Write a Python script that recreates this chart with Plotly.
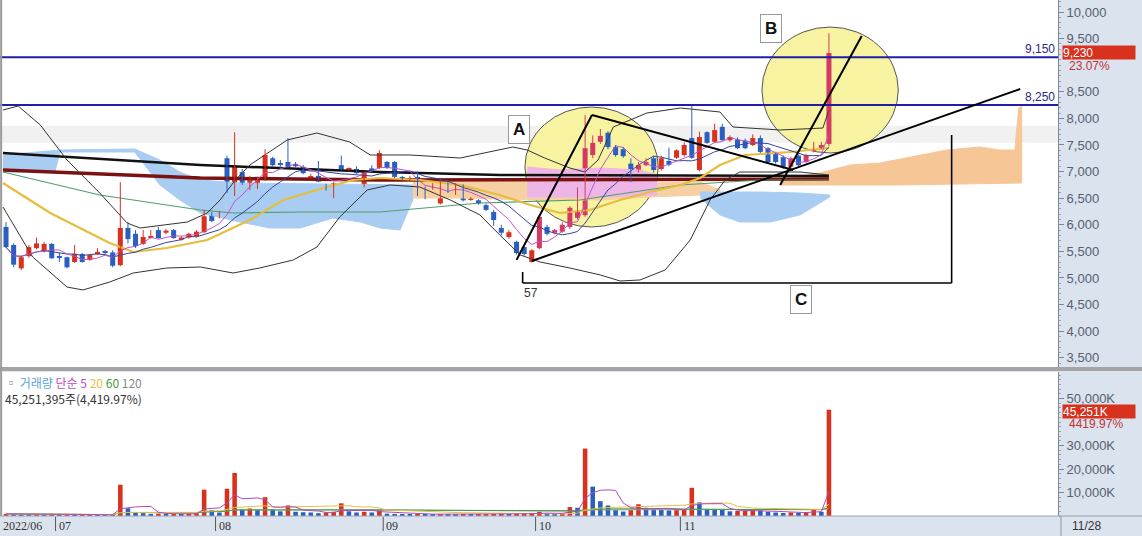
import plotly.graph_objects as go
import pandas as pd

W, H = 1142, 536

# ---------------- data ----------------
month_labels = ["2022/06", "07", "08", "09", "10", "11"]
month_start = [0, 7, 28, 50, 70, 89]
last_date_label = "11/28"

open_ = [5960,5620,5180,5410,5560,5500,5640,5410,5390,5300,
         5450,5340,5450,5490,5480,5240,5940,5830,5640,5760,
         5900,5850,5900,5720,5760,5780,5860,6220,6170,7250,
         6560,6990,6710,6690,6840,7250,7150,7180,7140,7090,
         6890,6920,6750,6520,7120,7030,7050,6710,7060,7070,
         7180,7180,6900,6840,6900,6690,6690,6400,6800,6600,
         6730,6480,6460,6370,6240,5940,5770,5680,5580,5300,
         5560,5960,5850,5870,5960,6130,6180,7310,7560,7730,
         7460,7420,7150,7000,7120,7250,7050,7200,7260,7310,
         7630,7030,7740,7560,7840,7590,7600,7580,7500,7630,
         7440,7330,7270,7090,7300,7180,7380,7440,7520]
high = [6050,5650,5420,5620,5760,5680,5660,5480,5400,5620,
        5470,5450,5560,5530,5520,6800,6050,5900,5900,5900,
        5960,5920,5920,5780,5850,5900,6280,6240,6260,7300,
        7740,7050,6920,6900,7420,7280,7220,7630,7180,7120,
        6960,7200,6770,6800,7300,7080,7100,7000,7120,7400,
        7200,7200,6920,6920,7000,6720,6780,6850,6830,6780,
        6760,6520,6480,6400,6280,6000,5900,5700,5620,5540,
        6200,6000,5920,6050,6350,6700,8060,7680,7800,7760,
        7500,7460,7250,7180,7250,7300,7300,7450,7420,7550,
        8250,7750,7760,7900,7900,7680,7640,7620,7700,7680,
        7460,7350,7300,7280,7320,7340,7560,7560,9600]
low = [5560,5200,5150,5380,5540,5480,5360,5300,5180,5280,
       5290,5320,5430,5440,5200,5220,5650,5560,5620,5740,
       5740,5820,5740,5700,5740,5760,5840,6050,6120,6600,
       6540,6750,6650,6670,6820,7100,7050,7060,7080,6950,
       6870,6800,6640,6500,7020,7000,6960,6700,6990,7050,
       7050,6880,6840,6830,6540,6480,6660,6380,6600,6560,
       6440,6450,6380,6260,5980,5800,5740,5440,5420,5290,
       5540,5800,5820,5850,5920,6100,6150,7250,7520,7420,
       7280,7260,6800,6980,7100,6980,7020,7100,7240,7280,
       7240,7000,7520,7540,7580,7560,7420,7420,7480,7350,
       7160,7150,7050,7060,7100,7160,7360,7420,7480]
close = [5580,5250,5390,5580,5650,5640,5370,5390,5200,5450,
         5300,5430,5490,5470,5230,5940,5730,5600,5770,5790,
         5750,5890,5750,5760,5830,5870,6160,6070,6190,6650,
         7120,6780,6840,6860,7310,7120,7130,7070,7100,6970,
         6910,6810,6650,6780,7030,7060,6970,6990,7000,7350,
         7070,6900,6850,6880,6560,6520,6730,6710,6620,6750,
         6460,6500,6400,6280,6090,5850,5860,5470,5450,5520,
         6150,5830,5900,6000,6320,6240,7440,7540,7670,7460,
         7310,7290,6850,7120,7180,7030,7250,7130,7400,7500,
         7260,7650,7540,7780,7590,7650,7440,7440,7630,7370,
         7180,7180,7090,7250,7120,7310,7420,7500,9230]
volume_k = [900,800,700,600,700,500,600,500,600,500,
            500,600,500,400,700,13300,3300,1600,1200,900,
            1000,800,900,700,900,1200,11200,2500,1500,11600,
            18300,2800,3200,2500,8000,2800,2000,4500,1800,1600,
            1500,1200,1500,1800,5400,2000,1500,1800,1500,2500,
            1000,900,800,700,900,800,700,800,700,600,
            700,600,600,700,800,900,800,1000,1100,1300,
            1800,900,800,1000,3800,3500,28700,12500,6300,4500,
            2500,1900,2500,5000,3500,2800,2600,2400,2500,2800,
            12000,5800,3000,2800,2600,2000,2200,2200,2500,2400,
            1800,1500,1300,1500,1400,1600,2700,1800,45251]

# indicator lines (x = trading-day index, y = price)
bb_up_x = [-0.4,1.6,4.5,8.0,12.3,15.9,17.6,23.8,26.4,28.1,30.1,32.0,36.9,40.8,45.1,47.8,53.0,59.6,66.5,68.4,70.7,74.0,76.0,77.7,79.7,84.1,88.5,93.7,95.4,101.6,107.2,108.0]
bb_up_y = [8158,8233,7876,7218,6597,6033,5939,6052,6221,6466,6842,7124,7594,7725,7556,7312,7312,7255,7462,7406,7255,7067,6992,7218,7838,8101,8195,8120,7838,7782,7819,8158]
bb_lo_x = [-0.4,3.5,8.0,10.1,13.6,16.7,21.1,25.5,29.8,33.3,37.7,40.8,43.8,47.4,50.4,54.3,58.3,62.2,64.8,67.5,70.1,74.0,78.0,80.6,83.2,86.5,89.8,92.4,94.4,96.3,104.2,108.0]
bb_lo_y = [6334,5394,4830,4774,4924,5093,5187,5206,5093,5187,5338,5582,6146,6654,6748,6710,6466,6184,5808,5432,5300,5187,5056,4943,4962,5150,5714,6466,6842,6992,6992,6936]
ma20_x = [-0.4,5.8,13.6,16.7,21.1,26.4,32.0,36.4,40.8,45.5,49.1,54.3,59.6,64.8,68.8,72.7,76.6,80.6,84.5,88.5,91.1,93.7,97.0,102.9,108.0]
ma20_y = [6785,6221,5657,5488,5563,5714,6090,6466,6654,6842,6879,6842,6748,6560,6372,6221,6278,6466,6616,6748,6879,7124,7312,7368,7443]
ma60_x = [-0.4,12.3,25.5,29.8,38.6,49.1,62.2,75.3,88.5,99.0,108.0]
ma60_y = [6992,6560,6278,6221,6240,6240,6409,6466,6748,6842,6842]
ma120_x = [-0.4,25.5,49.1,64.8,108.0]
ma120_y = [7349,7124,6992,6936,6917]
ma240_x = [-0.4,25.5,49.1,108.0]
ma240_y = [7030,6879,6842,6860]

# ichimoku cloud outlines (top edge left->right, bottom edge left->right)
cloud_blue1_top_x = [-0.4,7.1,16.9,20.2,22.8,25.5,30.7,53.4]
cloud_blue1_top_y = [7312,7406,7424,7218,6992,6842,6785,6748]
cloud_blue1_bot_x = [-0.4,6.4,7.1,16.9,20.2,22.8,25.5,30.7,34.6,38.6,42.9,46.5,49.1,51.7,53.4]
cloud_blue1_bot_y = [6992,6992,7368,7368,6748,6466,6221,6052,5939,5939,6127,6052,5939,5902,6466]
cloud_org1_top_x = [53.4,59.6,68.8,78.0,84.5,91.1,93.7]
cloud_org1_top_y = [6842,6842,6804,6748,6785,6804,6654]
cloud_org1_bot_x = [53.4,59.6,68.8,78.0,84.5,91.1,93.7]
cloud_org1_bot_y = [6503,6503,6466,6466,6522,6560,6616]
cloud_pink_top_x = [68.4,72.7,78.0,83.2,85.4]
cloud_pink_top_y = [7086,7030,7067,7030,6936]
cloud_pink_bot_x = [68.4,78.0,85.4]
cloud_pink_bot_y = [6522,6522,6560]
cloud_blue2_top_x = [91.1,99.0,104.2,108.1]
cloud_blue2_top_y = [6616,6616,6597,6560]
cloud_blue2_bot_x = [91.1,93.7,96.3,100.3,104.2,108.1]
cloud_blue2_bot_y = [6503,6184,6052,6052,6184,6522]
cloud_org2_top_x = [101.6,104.2,106.8,110.8,114.7,119.0,123.5,127.8,130.4,132.4,132.9,133.3]
cloud_org2_top_y = [6842,6917,6973,7124,7161,7274,7406,7462,7406,7406,8195,8233]
cloud_org2_bot_x = [101.6,117.3,133.3]
cloud_org2_bot_y = [6748,6748,6785]

level_lines = [9150, 8250]

# ---------------- derived ----------------
idx = list(range(len(close)))
cs = pd.Series(close, dtype=float)
vs = pd.Series(volume_k, dtype=float)
ma5 = cs.rolling(5, min_periods=1).mean()
ma10 = cs.rolling(10, min_periods=1).mean()
vma = {n: vs.rolling(n, min_periods=1).mean() for n in (5, 20, 60, 120)}
vol_colors = ['#d8321f' if (i == 0 or volume_k[i] >= volume_k[i-1]) else '#2a5fc2' for i in idx]

RED, BLUE, CRIMSON = '#d8321f', '#2a5fc2', '#d43a62'
def in_circle(i):
    return 70 <= i <= 84 or i >= 100

up = [close[i] >= open_[i] for i in idx]
body_col = [(CRIMSON if in_circle(i) else RED) if up[i] else BLUE for i in idx]
body_base = [min(open_[i], close[i]) for i in idx]
body_len = [max(abs(close[i] - open_[i]), 22) for i in idx]

XD = 1058 / W
X_RANGE = [-0.79, 138.06]

fig = go.Figure()

def poly(tx, ty, bx, by, color):
    fig.add_trace(go.Scatter(x=tx + bx[::-1], y=ty + by[::-1], fill='toself', fillcolor=color,
                             line=dict(color=color, width=1), mode='lines', hoverinfo='skip'))

poly(cloud_blue1_top_x, cloud_blue1_top_y, cloud_blue1_bot_x, cloud_blue1_bot_y, '#a9cdf2')
poly(cloud_org1_top_x, cloud_org1_top_y, cloud_org1_bot_x, cloud_org1_bot_y, '#f6cfa3')
poly(cloud_pink_top_x, cloud_pink_top_y, cloud_pink_bot_x, cloud_pink_bot_y, '#eeb6e6')
poly(cloud_blue2_top_x, cloud_blue2_top_y, cloud_blue2_bot_x, cloud_blue2_bot_y, '#a9cdf2')
poly(cloud_org2_top_x, cloud_org2_top_y, cloud_org2_bot_x, cloud_org2_bot_y, '#f6c697')

def line(x, y, color, width):
    fig.add_trace(go.Scatter(x=x, y=y, mode='lines', line=dict(color=color, width=width), hoverinfo='skip'))

line(ma240_x, ma240_y, '#7a1212', 3.5)
line(ma120_x, ma120_y, '#111111', 2.5)
line(ma60_x, ma60_y, '#4f9f6a', 1.2)
line(bb_up_x, bb_up_y, '#333333', 1)
line(bb_lo_x, bb_lo_y, '#333333', 1)
line(ma20_x, ma20_y, '#e6bd3c', 2.2)
line(idx, list(ma10), '#33449a', 1)
line(idx, list(ma5), '#c055c8', 1)

# candles: wicks then bodies
for col in (RED, CRIMSON, BLUE):
    wx, wy = [], []
    for i in idx:
        if body_col[i] == col:
            wx += [i, i, None]
            wy += [low[i], high[i], None]
    fig.add_trace(go.Scatter(x=wx, y=wy, mode='lines', line=dict(color=col, width=1), hoverinfo='skip'))
fig.add_trace(go.Bar(x=idx, y=body_len, base=body_base, width=0.66,
                     marker=dict(color=body_col, line=dict(width=0)), hoverinfo='skip'))

fig.add_trace(go.Bar(x=idx, y=volume_k, marker=dict(color=vol_colors, line=dict(width=0)),
                     width=0.6, xaxis='x2', yaxis='y2', hoverinfo='skip'))
for n, c in ((120, '#9a9a9a'), (60, '#3f9a45'), (20, '#e2c24a'), (5, '#b04ab8')):
    fig.add_trace(go.Scatter(x=idx, y=list(vma[n]), mode='lines', line=dict(color=c, width=1),
                             xaxis='x2', yaxis='y2', hoverinfo='skip'))

shapes = []
shapes.append(dict(type='rect', xref='x', yref='y', x0=X_RANGE[0], x1=X_RANGE[1], y0=7540, y1=7860,
                   fillcolor='#f1f1f1', line=dict(width=0), layer='below'))
shapes.append(dict(type='circle', xref='x', yref='y', x0=68.1, x1=85.6, y0=5958, y1=8214,
                   fillcolor='#f8f3a0', line=dict(color='#555555', width=1), layer='below'))
shapes.append(dict(type='circle', xref='x', yref='y', x0=99.2, x1=117.1, y0=7349, y1=9718,
                   fillcolor='#f8f3a0', line=dict(color='#555555', width=1), layer='below'))
for lv in level_lines:
    shapes.append(dict(type='line', xref='paper', yref='y', x0=0, x1=XD, y0=lv, y1=lv,
                       line=dict(color='#1e1ea6', width=2), layer='above'))
for (x0, y0, x1, y1) in [(67.0, 5340, 76.9, 8064), (76.9, 8064, 103.3, 7030),
                         (69.0, 5319, 133.1, 8552), (101.6, 6748, 112.3, 9549)]:
    shapes.append(dict(type='line', xref='x', yref='y', x0=x0, y0=y0, x1=x1, y1=y1,
                       line=dict(color='black', width=2), layer='above'))
for (x0, y0, x1, y1) in [(67.8, 5112, 67.8, 4905), (67.8, 4905, 124.1, 4905), (124.1, 4905, 124.1, 7688)]:
    shapes.append(dict(type='line', xref='x', yref='y', x0=x0, y0=y0, x1=x1, y1=y1,
                       line=dict(color='black', width=1.6), layer='above'))
shapes.append(dict(type='rect', xref='paper', yref='paper', x0=0, x1=1, y0=1-371/H, y1=1-367/H,
                   fillcolor='#a4a4a4', line=dict(width=0), layer='above'))
shapes.append(dict(type='line', xref='paper', yref='paper', x0=0.001, x1=0.001, y0=1-516/H, y1=1,
                   line=dict(color='#9a9a9a', width=2)))
shapes.append(dict(type='line', xref='paper', yref='paper', x0=0, x1=1, y0=1-516/H, y1=1-516/H,
                   line=dict(color='#9aa4b4', width=1)))
shapes.append(dict(type='line', xref='paper', yref='paper', x0=1061/W, x1=1061/W, y0=0, y1=1-516/H,
                   line=dict(color='#8a94a4', width=1)))
for ms in month_start[1:]:
    shapes.append(dict(type='line', xref='x', yref='paper', x0=ms-0.5, x1=ms-0.5, y0=1-531/H, y1=1-517/H,
                       line=dict(color='#555555', width=1)))

ann = []
for lbl, xx, yy in (("A", 67.3, 7782), ("B", 100.4, 9699), ("C", 104.3, 4586)):
    ann.append(dict(text=f"<b>{lbl}</b>", x=xx, y=yy, xref='x', yref='y', showarrow=False,
                    font=dict(family='Liberation Sans', size=17, color='#111'),
                    bgcolor='white', bordercolor='#999999', borderwidth=1, borderpad=4))
ann.append(dict(text="57", x=67.7, y=4720, xref='x', yref='y', xanchor='left', showarrow=False,
                font=dict(family='Liberation Sans', size=12, color='#333')))
for lv, ypx in zip(level_lines, (49, 97)):
    ann.append(dict(text=f"{lv:,}", x=1057/W, y=1-ypx/H, xref='paper', yref='paper', xanchor='right',
                    yanchor='middle', showarrow=False, font=dict(family='Liberation Sans', size=12, color='#2a2a80')))
ann.append(dict(text=f"{close[-1]:,}", x=1062/W, y=1-53/H, xref='paper', yref='paper', xanchor='left',
                yanchor='middle', showarrow=False, bgcolor='#d8321f', width=72, height=13, align='left',
                font=dict(family='Liberation Sans', size=12, color='white'), borderpad=0))
ann.append(dict(text="23.07%", x=1067/W, y=1-66/H, xref='paper', yref='paper', xanchor='left',
                yanchor='middle', showarrow=False, font=dict(family='Liberation Sans', size=12, color='#c03535')))
ann.append(dict(text="45,251K", x=1062/W, y=1-411/H, xref='paper', yref='paper', xanchor='left',
                yanchor='middle', showarrow=False, bgcolor='#d8321f', width=72, height=13, align='left',
                font=dict(family='Liberation Sans', size=12, color='white'), borderpad=0))
ann.append(dict(text="4419.97%", x=1067/W, y=1-424/H, xref='paper', yref='paper', xanchor='left',
                yanchor='middle', showarrow=False, font=dict(family='Liberation Sans', size=12, color='#c03535')))
ann.append(dict(text='<span style="color:#8a8a8a">▫</span> <span style="color:#5aa3d2">거래량</span> '
                     '<span style="color:#bb4ac0">단순 5</span> <span style="color:#e2c24a">20</span> '
                     '<span style="color:#3f9a45">60</span> <span style="color:#8a8a8a">120</span>'
                     '<br><span style="color:#333333">45,251,395주(4,419.97%)</span>',
                x=3/W, y=1-372/H, xref='paper', yref='paper', xanchor='left', yanchor='top', align='left',
                showarrow=False, font=dict(family='Noto Sans CJK KR', size=12)))
ann.append(dict(text=month_labels[0], x=1/W, y=1-526/H, xref='paper', yref='paper', xanchor='left',
                yanchor='middle', showarrow=False, font=dict(family='Liberation Sans Narrow', size=12, color='#333')))
for lbl, ms in zip(month_labels[1:], month_start[1:]):
    ann.append(dict(text=lbl, x=ms-0.35, y=1-526/H, xref='x', yref='paper', xanchor='left',
                    yanchor='middle', showarrow=False, font=dict(family='Liberation Sans Narrow', size=12, color='#333')))
ann.append(dict(text=last_date_label, x=1070/W, y=1-526/H, xref='paper', yref='paper', xanchor='left',
                yanchor='middle', showarrow=False, font=dict(family='Liberation Sans', size=12, color='#333')))

axis_font = dict(family='Liberation Sans', size=13, color='#56606e')
price_ticks = [v for v in range(3500, 10001, 500) if v != 9000]
fig.update_layout(
    width=W, height=H, margin=dict(l=0, r=0, t=0, b=0),
    paper_bgcolor='#dbe3ee', plot_bgcolor='white', showlegend=False, barmode='overlay',
    xaxis=dict(domain=[0, XD], range=X_RANGE, showticklabels=False, showgrid=False, zeroline=False,
               rangeslider=dict(visible=False), anchor='y', ticks=''),
    yaxis=dict(domain=[1-368/H, 1], range=[3307, 10226], side='right', anchor='x', showgrid=False,
               zeroline=False, tickmode='array', tickvals=price_ticks, ticktext=[f"{v:,}" for v in price_ticks],
               ticks='outside', ticklen=5,
               tickcolor='#7d8899', showline=True, linecolor='#7d8899', tickfont=axis_font,
               minor=dict(ticks='outside', ticklen=2, tickmode='linear', tick0=0, dtick=100, tickcolor='#9aa4b2')),
    xaxis2=dict(domain=[0, XD], range=X_RANGE, matches='x', anchor='y2', showticklabels=False,
                showgrid=False, zeroline=False, rangeslider=dict(visible=False), ticks=''),
    yaxis2=dict(domain=[1-516/H, 1-372/H], range=[0, 61300], side='right', anchor='x2', showgrid=False,
                zeroline=False, tickmode='array', tickvals=[10000, 20000, 30000, 50000],
                ticktext=['10,000K', '20,000K', '30,000K', '50,000K'],
                ticks='outside', ticklen=5, tickcolor='#7d8899', showline=True, linecolor='#7d8899',
                tickfont=axis_font,
                minor=dict(ticks='outside', ticklen=2, tickmode='linear', tick0=0, dtick=2000, tickcolor='#9aa4b2')),
    shapes=shapes, annotations=ann,
)

fig.write_html("out.html", config={'displayModeBar': False},
               post_script="document.body.style.margin='0';document.body.style.padding='0';document.body.style.overflow='hidden';")
